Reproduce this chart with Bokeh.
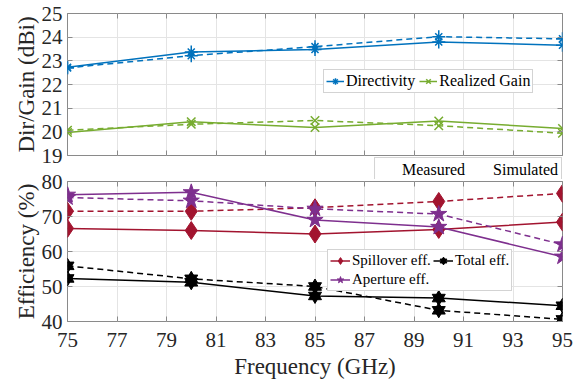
from bokeh.plotting import figure
from bokeh.layouts import column
from bokeh.models import (Range1d, FixedTicker, LinearAxis, Legend, LegendItem)
from bokeh.embed import file_html
from bokeh.resources import INLINE

# ---- data ----
freq = [75, 80, 85, 90, 95]
x_ticks = [75, 77, 79, 81, 83, 85, 87, 89, 91, 93, 95]
y_ticks_top = [19, 20, 21, 22, 23, 24, 25]
y_ticks_bot = [40, 50, 60, 70, 80]

dir_meas = [22.73, 23.37, 23.48, 23.80, 23.66]
dir_sim = [22.70, 23.22, 23.60, 24.02, 23.93]
gain_meas = [19.97, 20.43, 20.18, 20.46, 20.14]
gain_sim = [20.07, 20.32, 20.48, 20.26, 19.94]

spill_meas = [66.6, 66.0, 65.0, 66.3, 68.4]
spill_sim = [71.5, 71.5, 72.5, 74.3, 76.6]
aper_meas = [76.2, 76.9, 69.0, 67.0, 58.5]
aper_sim = [75.4, 74.5, 72.2, 70.7, 62.0]
total_meas = [52.3, 51.2, 47.3, 46.7, 44.5]
total_sim = [55.9, 52.2, 50.0, 43.2, 40.6]

labels_top = ["Directivity", "Realized Gain"]
labels_bot = ["Spillover eff.", "Total eff.", "Aperture eff."]
labels_style = ["Measured", "Simulated"]

# ---- style ----
FONT = "'Liberation Serif'"
TICK_FONT = "Times New Roman"
C_DIR = "#0072BD"
C_GAIN = "#77AC30"
C_SPILL = "#A2142F"
C_APER = "#7E2F8E"
C_TOT = "#000000"
BOX = "#8a8a8a"
GRID = "#e4e4e4"
TXT = "#262626"
DASH = "6 4"
LW = 1.5


def style_fig(p, yticks, ylabel, show_xlabels):
    p.outline_line_color = BOX
    p.outline_line_width = 1
    p.xgrid.ticker = FixedTicker(ticks=x_ticks)
    p.ygrid.ticker = FixedTicker(ticks=yticks)
    p.xgrid.grid_line_color = GRID
    p.ygrid.grid_line_color = GRID
    xa = p.xaxis[0]
    ya = p.yaxis[0]
    xa.ticker = FixedTicker(ticks=x_ticks)
    ya.ticker = FixedTicker(ticks=yticks)
    for ax in (xa, ya):
        ax.axis_line_color = None
        ax.major_tick_line_color = BOX
        ax.major_tick_in = 5
        ax.major_tick_out = 0
        ax.minor_tick_line_color = None
        ax.major_label_text_font = TICK_FONT
        ax.major_label_text_font_size = "21px"
        ax.major_label_text_color = TXT
        ax.axis_label_text_font = FONT
        ax.axis_label_text_font_size = "23px"
        ax.axis_label_text_font_style = "normal"
        ax.axis_label_text_color = TXT
    ya.axis_label = ylabel
    ya.major_label_standoff = 5
    ya.axis_label_standoff = 0
    if show_xlabels:
        xa.axis_label = "Frequency (GHz)"
        xa.major_label_standoff = 11
        xa.axis_label_standoff = 4
    else:
        xa.major_label_overrides = {t: "" for t in x_ticks}
    # mirrored ticks on right and top
    ra = LinearAxis(ticker=FixedTicker(ticks=yticks),
                    major_label_overrides={t: "" for t in yticks})
    ta = LinearAxis(ticker=FixedTicker(ticks=x_ticks),
                    major_label_overrides={t: "" for t in x_ticks})
    for ax in (ra, ta):
        ax.axis_line_color = None
        ax.major_tick_line_color = BOX
        ax.major_tick_in = 5
        ax.major_tick_out = 0
        ax.minor_tick_line_color = None
        ax.major_label_standoff = 0
        ax.major_label_text_font_size = "1px"
    p.add_layout(ra, "right")
    p.add_layout(ta, "above")


def legend_common(lg, size="16px"):
    lg.label_text_font = FONT
    lg.label_text_font_size = size
    lg.label_text_color = "#000000"
    lg.border_line_color = "#a8a8a8"
    lg.border_line_width = 1
    lg.background_fill_color = "white"
    lg.background_fill_alpha = 1
    lg.padding = 2
    lg.spacing = 4
    lg.margin = 0
    lg.label_standoff = 2
    lg.glyph_width = 18
    lg.glyph_height = 16
    lg.label_height = 16


# ---- top figure ----
top = figure(frame_width=495, frame_height=142, min_border_left=67,
             min_border_right=20, min_border_top=13, min_border_bottom=14,
             x_range=Range1d(75, 95), y_range=Range1d(19, 25),
             output_backend="svg", toolbar_location=None)
top.background_fill_color = "white"
style_fig(top, y_ticks_top, "Dir/Gain (dBi)", False)

# directivity
d1 = top.line(freq, dir_meas, color=C_DIR, line_width=LW)
d1m = top.scatter(freq, dir_meas, marker="cross", size=13, line_color=C_DIR, line_width=LW)
d1x = top.scatter(freq, dir_meas, marker="x", size=10, line_color=C_DIR, line_width=LW)
top.line(freq, dir_sim, color=C_DIR, line_width=LW, line_dash=DASH)
top.scatter(freq, dir_sim, marker="cross", size=13, line_color=C_DIR, line_width=LW)
top.scatter(freq, dir_sim, marker="x", size=10, line_color=C_DIR, line_width=LW)
# realized gain
g1 = top.line(freq, gain_meas, color=C_GAIN, line_width=LW)
g1m = top.scatter(freq, gain_meas, marker="x", size=12, line_color=C_GAIN, line_width=LW)
top.line(freq, gain_sim, color=C_GAIN, line_width=LW, line_dash=DASH)
top.scatter(freq, gain_sim, marker="x", size=12, line_color=C_GAIN, line_width=LW)

lg_top = Legend(items=[LegendItem(label=labels_top[0], renderers=[d1, d1m, d1x]),
                       LegendItem(label=labels_top[1], renderers=[g1, g1m])],
                orientation="horizontal", location=(256, 62))
legend_common(lg_top)
top.add_layout(lg_top)

# ---- legend strip (Measured / Simulated), transparent, same borders ----
leg = figure(frame_width=495, frame_height=22, min_border_left=67,
             min_border_right=20, min_border_top=0, min_border_bottom=0,
             x_range=Range1d(0, 1), y_range=Range1d(0, 1),
             x_axis_location=None, y_axis_location=None,
             output_backend="svg", toolbar_location=None,
             margin=(-12, 0, 0, 0))
leg.border_fill_color = None
leg.background_fill_color = None
leg.outline_line_color = None
leg.xgrid.visible = False
leg.ygrid.visible = False
dm = leg.line([], [], color="black", line_width=LW)
ds = leg.line([], [], color="black", line_width=LW, line_dash="5 4")
lg_ms = Legend(items=[LegendItem(label=labels_style[0], renderers=[dm]),
                      LegendItem(label=labels_style[1], renderers=[ds])],
               orientation="horizontal", location="top_right")
legend_common(lg_ms)
lg_ms.padding = 3
lg_ms.glyph_width = 22
leg.add_layout(lg_ms)

# ---- bottom figure ----
bot = figure(frame_width=495, frame_height=140, min_border_left=67,
             min_border_right=20, min_border_top=11, min_border_bottom=61,
             x_range=Range1d(75, 95), y_range=Range1d(40, 80),
             output_backend="svg", toolbar_location=None,
             margin=(-9, 0, 0, 0))
bot.border_fill_color = None
bot.background_fill_color = "white"
style_fig(bot, y_ticks_bot, "Efficiency (%)", True)

s1 = bot.line(freq, spill_meas, color=C_SPILL, line_width=LW)
s1m = bot.scatter(freq, spill_meas, marker="diamond", size=18, color=C_SPILL)
bot.line(freq, spill_sim, color=C_SPILL, line_width=LW, line_dash=DASH)
bot.scatter(freq, spill_sim, marker="diamond", size=18, color=C_SPILL)

a1 = bot.line(freq, aper_meas, color=C_APER, line_width=LW)
a1m = bot.scatter(freq, aper_meas, marker="star", size=17, color=C_APER)
bot.line(freq, aper_sim, color=C_APER, line_width=LW, line_dash=DASH)
bot.scatter(freq, aper_sim, marker="star", size=17, color=C_APER)

t1 = bot.line(freq, total_meas, color=C_TOT, line_width=LW)
t1a = bot.scatter(freq, total_meas, marker="triangle", size=13, color=C_TOT)
t1b = bot.scatter(freq, total_meas, marker="inverted_triangle", size=13, color=C_TOT)
bot.line(freq, total_sim, color=C_TOT, line_width=LW, line_dash=DASH)
bot.scatter(freq, total_sim, marker="triangle", size=13, color=C_TOT)
bot.scatter(freq, total_sim, marker="inverted_triangle", size=13, color=C_TOT)

lg_bot = Legend(items=[LegendItem(label=labels_bot[0], renderers=[s1, s1m]),
                       LegendItem(label=labels_bot[1], renderers=[t1, t1a, t1b]),
                       LegendItem(label=labels_bot[2], renderers=[a1, a1m])],
                orientation="horizontal", ncols=2, location=(260, 30))
legend_common(lg_bot, "15px")
lg_bot.glyph_width = 20
lg_bot.glyph_height = 17
lg_bot.label_height = 17
lg_bot.spacing = 2
bot.add_layout(lg_bot)

layout = column(top, leg, bot, spacing=0)
open("out.html", "w").write(file_html(layout, INLINE))
